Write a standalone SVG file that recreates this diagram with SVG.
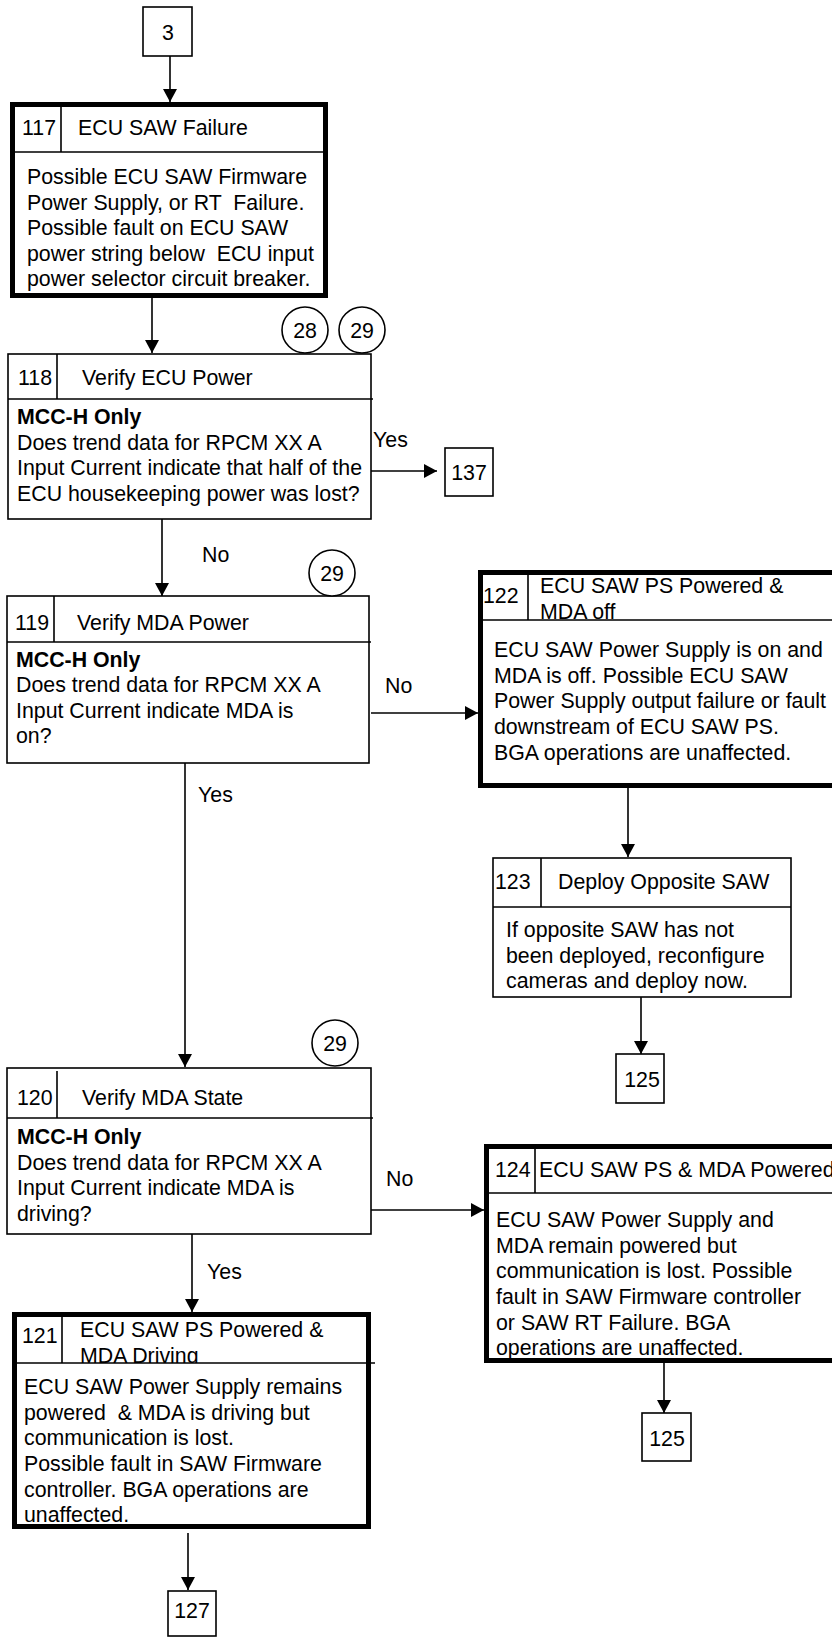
<svg xmlns="http://www.w3.org/2000/svg" width="832" height="1637" viewBox="0 0 832 1637">
<style>
text{font-family:"Liberation Sans",Arial,sans-serif;font-size:21.33px;fill:#000}
.b{font-weight:bold}
.pre{white-space:pre}
.mid{text-anchor:middle}
.thin{fill:#fff;stroke:#000;stroke-width:1.6}
.thick{fill:none;stroke:#000;stroke-width:5}
.ln{stroke:#000;stroke-width:1.6;fill:none}
.cn{stroke:#000;stroke-width:1.6;fill:none;marker-end:url(#ah)}
</style>
<defs>
<marker id="ah" viewBox="0 0 13 14" refX="13" refY="7" markerWidth="13" markerHeight="14" markerUnits="userSpaceOnUse" orient="auto">
<path d="M0,0 L13,7 L0,14 z" fill="#000"/>
</marker>
<clipPath id="h122"><rect x="478" y="570" width="360" height="50"/></clipPath>
<clipPath id="h121"><rect x="12" y="1312" width="360" height="51"/></clipPath>
</defs>
<rect width="832" height="1637" fill="#fff"/>

<g id="connectors">
<path class="cn" d="M170,56 V102"/>
<path class="cn" d="M152,298 V353"/>
<path class="cn" d="M362,471 H437"/>
<path class="cn" d="M162,519 V596"/>
<path class="cn" d="M371,713 H478"/>
<path class="cn" d="M628,788 V857"/>
<path class="cn" d="M641,997 V1054"/>
<path class="cn" d="M185,763 V1067"/>
<path class="cn" d="M371,1210 H484"/>
<path class="cn" d="M664,1363 V1413"/>
<path class="cn" d="M192,1234 V1312"/>
<path class="cn" d="M188,1533 V1590"/>
<text x="373" y="447">Yes</text>
<text x="202" y="562">No</text>
<text x="385" y="693">No</text>
<text x="198" y="802">Yes</text>
<text x="386" y="1186">No</text>
<text x="207" y="1279">Yes</text>
</g>

<g id="n3">
<rect class="thin" x="143" y="7" width="49" height="49"/>
<text class="mid" x="168" y="40">3</text>
</g>

<g id="n117">
<rect x="12.5" y="104.5" width="313" height="191" fill="#fff"/>
<path class="ln" d="M12,152 H326 M61,104 V152"/>
<text x="22" y="135">117</text>
<text x="78" y="135">ECU SAW Failure</text>
<text x="27" y="184">Possible ECU SAW Firmware</text>
<text class="pre" x="27" y="210">Power Supply, or RT  Failure.</text>
<text x="27" y="235">Possible fault on ECU SAW</text>
<text class="pre" x="27" y="261">power string below  ECU input</text>
<text x="27" y="286">power selector circuit breaker.</text>
<rect class="thick" x="12.5" y="104.5" width="313" height="191"/>
</g>

<g id="n118">
<rect class="thin" x="8" y="354" width="363" height="165"/>
<path class="ln" d="M8,399 H373 M57,354 V399"/>
<text x="18" y="385">118</text>
<text x="82" y="385">Verify ECU Power</text>
<text class="b" x="17" y="424">MCC-H Only</text>
<text x="17" y="450">Does trend data for RPCM XX A</text>
<text x="17" y="475">Input Current indicate that half of the</text>
<text x="17" y="501">ECU housekeeping power was lost?</text>
</g>
<g id="c28"><circle class="thin" cx="305" cy="330" r="23"/><text class="mid" x="305" y="338">28</text></g>
<g id="c29a"><circle class="thin" cx="362" cy="330" r="23"/><text class="mid" x="362" y="338">29</text></g>

<g id="n137">
<rect class="thin" x="445" y="448" width="48" height="48"/>
<text class="mid" x="469" y="480">137</text>
</g>

<g id="n119">
<rect class="thin" x="7" y="596" width="362" height="167"/>
<path class="ln" d="M7,642 H371 M54,596 V642"/>
<text x="15" y="630">119</text>
<text x="77" y="630">Verify MDA Power</text>
<text class="b" x="16" y="667">MCC-H Only</text>
<text x="16" y="692">Does trend data for RPCM XX A</text>
<text x="16" y="718">Input Current indicate MDA is</text>
<text x="16" y="743">on?</text>
</g>
<g id="c29b"><circle class="thin" cx="332" cy="573" r="23"/><text class="mid" x="332" y="581">29</text></g>

<g id="n122">
<rect x="480.5" y="572.5" width="400" height="213" fill="#fff"/>
<g clip-path="url(#h122)">
<text x="483" y="603">122</text>
<text x="540" y="593">ECU SAW PS Powered &amp;</text>
<text x="540" y="619">MDA off</text>
</g>
<path class="ln" d="M480,620 H832 M528,572 V620"/>
<text x="494" y="657">ECU SAW Power Supply is on and</text>
<text x="494" y="683">MDA is off. Possible ECU SAW</text>
<text x="494" y="708">Power Supply output failure or fault</text>
<text x="494" y="734">downstream of ECU SAW PS.</text>
<text x="494" y="760">BGA operations are unaffected.</text>
<rect class="thick" x="480.5" y="572.5" width="400" height="213"/>
</g>

<g id="n123">
<rect class="thin" x="493" y="858" width="298" height="139"/>
<path class="ln" d="M493,907 H791 M541,858 V907"/>
<text x="495" y="889">123</text>
<text x="558" y="889">Deploy Opposite SAW</text>
<text x="506" y="937">If opposite SAW has not</text>
<text x="506" y="963">been deployed, reconfigure</text>
<text x="506" y="988">cameras and deploy now.</text>
</g>

<g id="n125a">
<rect class="thin" x="616" y="1054" width="48" height="49"/>
<text class="mid" x="642" y="1087">125</text>
</g>

<g id="n120">
<rect class="thin" x="7" y="1068" width="364" height="166"/>
<path class="ln" d="M7,1118 H373 M57,1071 V1118"/>
<text x="17" y="1105">120</text>
<text x="82" y="1105">Verify MDA State</text>
<text class="b" x="17" y="1144">MCC-H Only</text>
<text x="17" y="1170">Does trend data for RPCM XX A</text>
<text x="17" y="1195">Input Current indicate MDA is</text>
<text x="17" y="1221">driving?</text>
</g>
<g id="c29c"><circle class="thin" cx="335" cy="1043" r="23"/><text class="mid" x="335" y="1051">29</text></g>

<g id="n124">
<rect x="486.5" y="1146.5" width="400" height="214" fill="#fff"/>
<path class="ln" d="M486,1193 H832 M535,1146 V1193"/>
<text x="495" y="1177">124</text>
<text x="539" y="1177">ECU SAW PS &amp; MDA Powered</text>
<text x="496" y="1227">ECU SAW Power Supply and</text>
<text x="496" y="1253">MDA remain powered but</text>
<text x="496" y="1278">communication is lost. Possible</text>
<text x="496" y="1304">fault in SAW Firmware controller</text>
<text x="496" y="1330">or SAW RT Failure. BGA</text>
<text x="496" y="1355">operations are unaffected.</text>
<rect class="thick" x="486.5" y="1146.5" width="400" height="214"/>
</g>

<g id="n125b">
<rect class="thin" x="642" y="1413" width="49" height="48"/>
<text class="mid" x="667" y="1446">125</text>
</g>

<g id="n121">
<rect x="14.5" y="1314.5" width="354" height="212" fill="#fff"/>
<g clip-path="url(#h121)">
<text x="22" y="1343">121</text>
<text x="80" y="1337">ECU SAW PS Powered &amp;</text>
<text x="80" y="1363">MDA Driving</text>
</g>
<path class="ln" d="M14,1363 H375 M62,1314 V1363"/>
<text x="24" y="1394">ECU SAW Power Supply remains</text>
<text class="pre" x="24" y="1420">powered  &amp; MDA is driving but</text>
<text x="24" y="1445">communication is lost.</text>
<text x="24" y="1471">Possible fault in SAW Firmware</text>
<text x="24" y="1497">controller. BGA operations are</text>
<text x="24" y="1522">unaffected.</text>
<rect class="thick" x="14.5" y="1314.5" width="354" height="212"/>
</g>

<g id="n127">
<rect class="thin" x="168" y="1591" width="48" height="45"/>
<text class="mid" x="192" y="1618">127</text>
</g>
</svg>
